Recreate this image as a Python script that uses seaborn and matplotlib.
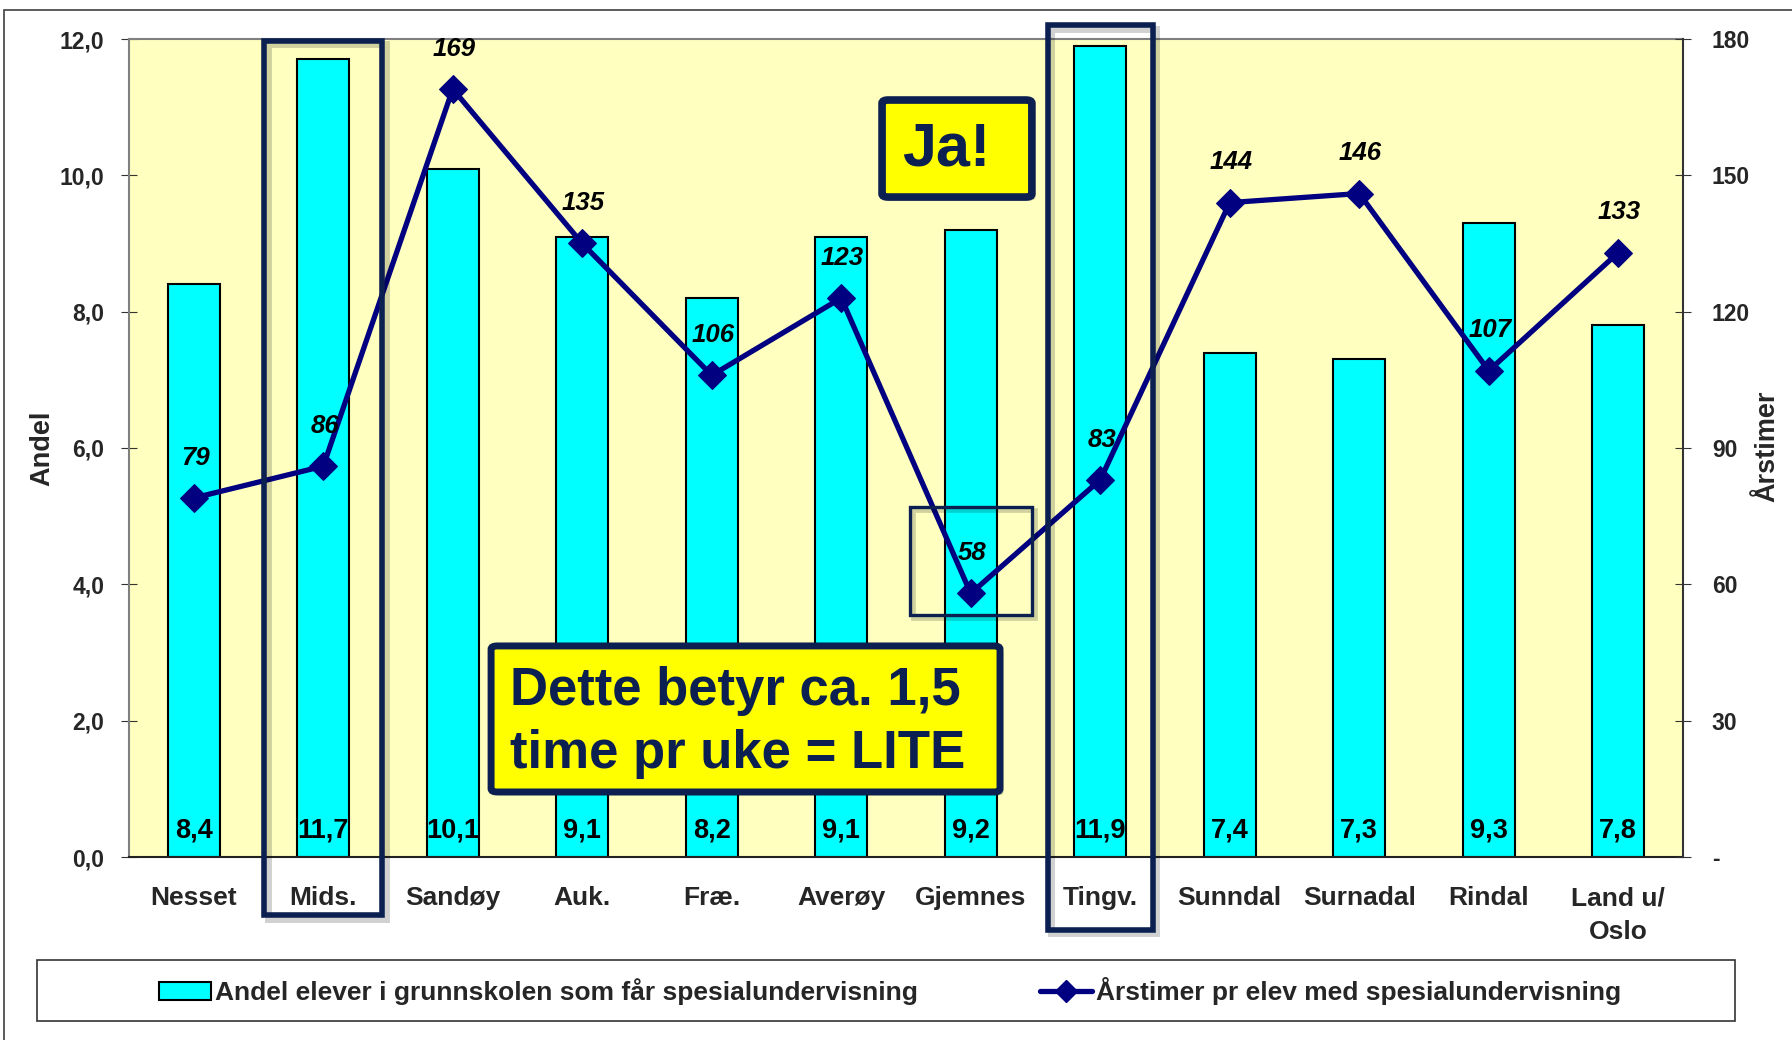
import numpy as np
import matplotlib
matplotlib.use("Agg")
import matplotlib.pyplot as plt
import matplotlib.transforms as mtransforms
from matplotlib.patches import Rectangle, FancyBboxPatch, Patch
from matplotlib.lines import Line2D
import seaborn as sns

# ---------------- data ----------------
kommuner = ["Nesset", "Mids.", "Sandøy", "Auk.", "Fræ.", "Averøy", "Gjemnes",
            "Tingv.", "Sunndal", "Surnadal", "Rindal", "Land u/\nOslo"]
andel = [8.4, 11.7, 10.1, 9.1, 8.2, 9.1, 9.2, 11.9, 7.4, 7.3, 9.3, 7.8]
arstimer = [79, 86, 169, 135, 106, 123, 58, 83, 144, 146, 107, 133]
andel_ticks = [0, 2, 4, 6, 8, 10, 12]
andel_ticklabels = ["0,0", "2,0", "4,0", "6,0", "8,0", "10,0", "12,0"]
timer_ticks = [0, 30, 60, 90, 120, 150, 180]
timer_ticklabels = ["-", "30", "60", "90", "120", "150", "180"]
bar_labels = ["8,4", "11,7", "10,1", "9,1", "8,2", "9,1", "9,2", "11,9", "7,4", "7,3", "9,3", "7,8"]
legend_labels = ["Andel elever i grunnskolen som får spesialundervisning",
                 "Årstimer pr elev med spesialundervisning"]
highlighted = ["Mids.", "Tingv."]

# ---------------- style ----------------
sns.set_style("white")
FONT = ["Liberation Sans", "DejaVu Sans"]
plt.rcParams["font.family"] = FONT
plt.rcParams["font.weight"] = "bold"

NAVY = "#000080"
BOXNAVY = "#0B2050"
CYAN = "#00FFFF"
BG = "#FFFFC0"

W, H = 1792, 1040
fig = plt.figure(figsize=(W / 100, H / 100), dpi=100)
fig.patch.set_facecolor("white")

L, R, T, B = 129, 1683, 39, 857
ax = fig.add_axes([L / W, 1 - B / H, (R - L) / W, (B - T) / H])
ax.set_facecolor(BG)

sns.barplot(x=kommuner, y=andel, ax=ax, color=CYAN, saturation=1,
            edgecolor="black", linewidth=1.5, width=0.4, zorder=2)
ax.set_xlim(-0.5, len(kommuner) - 0.5)
ax.set_ylim(0, 12)
ax.set_yticks(andel_ticks)
ax.set_yticklabels(andel_ticklabels, fontsize=16.5, fontweight="bold")
ax.set_xticks(np.arange(len(kommuner)))
ax.set_xticklabels(kommuner, fontsize=19, fontweight="bold", linespacing=1.5)
ax.set_xticks(np.arange(len(kommuner) + 1) - 0.5, minor=True)
ax.tick_params(axis="x", which="major", length=0, pad=21)
ax.tick_params(axis="x", which="minor", length=13.5, direction="inout", width=0.8, color="#333333")
ax.tick_params(axis="y", length=11.5, direction="inout", width=0.8, pad=12, color="#333333", left=True)
ax.set_xlabel("")
ax.set_ylabel("")
ax.grid(False)
for s in ["top", "left"]:
    ax.spines[s].set_color("#808080")
    ax.spines[s].set_linewidth(1.5)
ax.spines["bottom"].set_color("#222222")
ax.spines["bottom"].set_linewidth(1.5)
ax.spines["right"].set_visible(False)

for i, lab in enumerate(bar_labels):
    ax.annotate(lab, (i, 0), xytext=(0, 14), textcoords="offset points",
                ha="center", va="baseline", fontsize=19.5, fontweight="bold",
                color="black", zorder=3)

ax2 = ax.twinx()
sns.lineplot(x=np.arange(len(arstimer)), y=arstimer, ax=ax2, color=NAVY,
             linewidth=3.8, marker="D", markersize=14, markeredgecolor=NAVY,
             markerfacecolor=NAVY, zorder=5)
ax2.set_ylim(0, 180)
ax2.set_xlim(-0.5, len(kommuner) - 0.5)
ax2.set_yticks(timer_ticks)
ax2.set_yticklabels(timer_ticklabels, fontsize=16.5, fontweight="bold")
ax2.tick_params(axis="y", length=11.5, direction="inout", width=0.8, pad=15, color="#333333", right=True)
ax2.set_xlabel("")
ax2.set_ylabel("")
for s in ["top", "left", "bottom"]:
    ax2.spines[s].set_visible(False)
ax2.spines["right"].set_color("#333333")
ax2.spines["right"].set_linewidth(1.5)

for i, v in enumerate(arstimer):
    ax2.annotate(str(v), (i, v), xytext=(1, 29), textcoords="offset points",
                 ha="center", va="center", fontsize=18.5, fontweight="bold",
                 fontstyle="italic", color="black", zorder=6)

# axis titles
fig.text(0.0234, 0.569, "Andel", rotation=90, ha="center", va="center",
         fontsize=19.5, fontweight="bold")
fig.text(0.986, 0.571, "Årstimer", rotation=90, ha="center", va="center",
         fontsize=19.5, fontweight="bold")

# highlight boxes around selected categories (with a soft shadow)
blend = mtransforms.blended_transform_factory(ax.transData, ax.transAxes)
shift = mtransforms.ScaledTranslation(2.5 / 72, -2.5 / 72, fig.dpi_scale_trans)


def outline_box(x0, y0, w, h, lw):
    sh = Rectangle((x0, y0), w, h, transform=blend + shift, fill=False,
                   edgecolor="#000000", alpha=0.18, linewidth=lw + 1,
                   clip_on=False, zorder=7)
    ax2.add_patch(sh)
    r = Rectangle((x0, y0), w, h, transform=blend, fill=False,
                  edgecolor=BOXNAVY, linewidth=lw, clip_on=False, zorder=8)
    ax2.add_patch(r)


box_specs = {"Mids.": (0.455, 0.9976, -0.071), "Tingv.": (0.405, 1.017, -0.089)}
for name in highlighted:
    xi = kommuner.index(name)
    hw, ytop, ybot = box_specs[name]
    outline_box(xi - hw, ybot, 2 * hw, ytop - ybot, 4)

gi = kommuner.index("Gjemnes")
outline_box(gi - 0.47, 0.296, 0.94, 0.132, 2.4)

axshift = ax2.transAxes + shift


def yellow_box(x0, y0, x1, y1, lw):
    sh = FancyBboxPatch((x0, y0), x1 - x0, y1 - y0,
                        boxstyle="round,pad=0,rounding_size=0.004",
                        transform=axshift, facecolor="#000000", alpha=0.2,
                        edgecolor="none", zorder=8.5, clip_on=False)
    ax2.add_patch(sh)
    bx = FancyBboxPatch((x0, y0), x1 - x0, y1 - y0,
                        boxstyle="round,pad=0,rounding_size=0.004",
                        transform=ax2.transAxes, facecolor="#FFFF00",
                        edgecolor=BOXNAVY, linewidth=lw, zorder=9, clip_on=False)
    ax2.add_patch(bx)


# "Ja!" box
yellow_box(0.4846, 0.8068, 0.581, 0.9254, 5.5)
ax2.text(0.526, 0.864, "Ja!", transform=ax2.transAxes, ha="center", va="center",
         fontsize=44, fontweight="bold", color=BOXNAVY, zorder=10)

# "Dette betyr ..." box
yellow_box(0.233, 0.0795, 0.5605, 0.258, 5)
ax2.text(0.2452, 0.1858, "Dette betyr ca. 1,5", transform=ax2.transAxes,
         ha="left", va="baseline", fontsize=38, fontweight="bold",
         color=BOXNAVY, zorder=10)
ax2.text(0.2452, 0.1088, "time pr uke = LITE", transform=ax2.transAxes,
         ha="left", va="baseline", fontsize=38, fontweight="bold",
         color=BOXNAVY, zorder=10)

# legend frame + legend
fig.add_artist(Rectangle((37 / W, 1 - 1021 / H), (1735 - 37) / W, 61 / H,
                         transform=fig.transFigure, fill=False,
                         edgecolor="#333333", linewidth=1.2))
handles = [Patch(facecolor=CYAN, edgecolor="black", linewidth=1.5),
           Line2D([0], [0], color=NAVY, linewidth=3.8, marker="D",
                  markersize=11, markerfacecolor=NAVY, markeredgecolor=NAVY)]
fig.legend(handles, legend_labels, loc="center", bbox_to_anchor=(890 / W, 1 - 991 / H),
           ncol=2, frameon=False, prop={"size": 19, "weight": "bold"},
           handlelength=2.0, handletextpad=0.15, columnspacing=4.6)

# outer figure border
fig.add_artist(Rectangle((4 / W, -0.05), 1.2, 1.05 - 10 / H,
                         transform=fig.transFigure, fill=False,
                         edgecolor="#404040", linewidth=1.2))

fig.savefig("out.png", dpi=100)
